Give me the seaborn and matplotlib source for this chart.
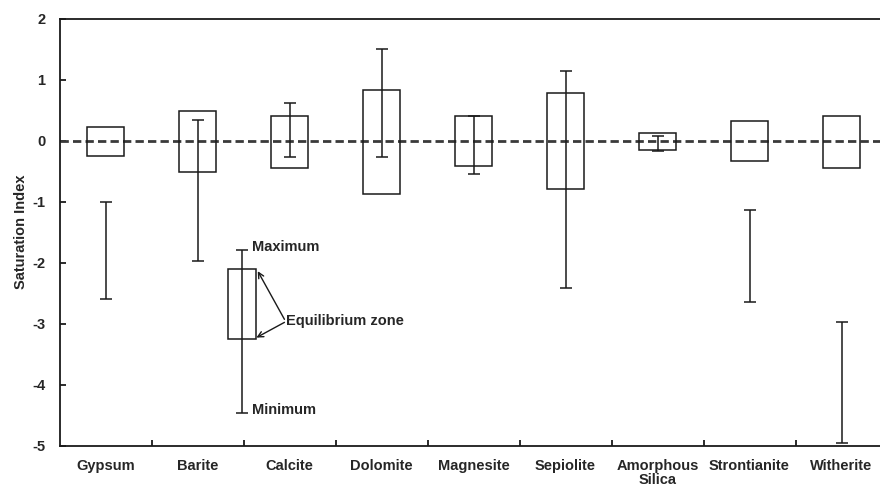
import numpy as np
import pandas as pd
import matplotlib
matplotlib.use("Agg")
import matplotlib.pyplot as plt
import seaborn as sns

# ---- data ----
minerals = ["Gypsum", "Barite", "Calcite", "Dolomite", "Magnesite",
            "Sepiolite", "Amorphous\nSilica", "Strontianite", "Witherite"]
box_low = [-0.25, -0.51, -0.44, -0.88, -0.42, -0.80, -0.16, -0.34, -0.45]
box_high = [0.22, 0.49, 0.41, 0.84, 0.40, 0.78, 0.12, 0.32, 0.41]
si_min = [-2.59, -1.98, -0.26, -0.26, -0.55, -2.42, -0.17, -2.64, -4.96]
si_max = [-1.00, 0.34, 0.62, 1.50, 0.40, 1.14, 0.07, -1.13, -2.97]

# explanatory key (drawn between Barite and Calcite)
key_x = 1.484
key_box = [-3.25, -2.10]
key_range = [-4.47, -1.80]

yticks = [2, 1, 0, -1, -2, -3, -4, -5]

df = pd.DataFrame({"mineral": minerals,
                   "low": box_low,
                   "height": np.array(box_high) - np.array(box_low)})

sns.set_style("ticks")
plt.rcParams["font.family"] = ["Liberation Sans", "DejaVu Sans"]
plt.rcParams["font.weight"] = "bold"

fig = plt.figure(figsize=(8.8, 4.88), dpi=100)
L = 59.5 / 880
ax = fig.add_axes([L, (488 - 445.5) / 488, 9 * 92 / 880, (445.5 - 18.8) / 488])

ink = "#1a1a1a"
lw = 1.1

# zero reference line
ax.axhline(0, color="#3a3a3a", lw=2.0, dashes=(3, 1.5), zorder=1)

# equilibrium zone boxes
sns.barplot(data=df, x="mineral", y="height", order=minerals,
            bottom=df["low"].values, fill=False, width=0.4,
            errorbar=None, color=ink, linewidth=lw, ax=ax, zorder=2)
for p in ax.patches:
    p.set_edgecolor(ink)
    p.set_facecolor("none")
    p.set_linewidth(lw)

# min / max ranges
pos = np.arange(len(minerals))
lo = np.array(si_min)
hi = np.array(si_max)
ax.errorbar(pos, (lo + hi) / 2, yerr=(hi - lo) / 2, fmt="none",
            ecolor=ink, elinewidth=lw, capsize=4, capthick=lw, zorder=3)

# key
ax.bar(key_x, key_box[1] - key_box[0], bottom=key_box[0], width=0.30,
       fill=False, edgecolor=ink, linewidth=lw, zorder=2)
ax.errorbar([key_x], [(key_range[0] + key_range[1]) / 2],
            yerr=[(key_range[1] - key_range[0]) / 2], fmt="none",
            ecolor=ink, elinewidth=lw, capsize=4, capthick=lw, zorder=3)
ax.text(key_x + 0.105, key_range[1] + 0.05, "Maximum", fontsize=10.5,
        fontweight="bold", va="center", ha="left")
ax.text(key_x + 0.105, key_range[0] + 0.05, "Minimum", fontsize=10.5,
        fontweight="bold", va="center", ha="left")
ax.text(1.965, -2.96, "Equilibrium zone", fontsize=10.5,
        fontweight="bold", va="center", ha="left")
ax.annotate("", xy=(1.655, -2.14), xytext=(1.945, -2.93),
            arrowprops=dict(arrowstyle="->", lw=1.0, color=ink,
                            shrinkA=0, shrinkB=0))
ax.annotate("", xy=(1.64, -3.23), xytext=(1.945, -2.98),
            arrowprops=dict(arrowstyle="->", lw=1.0, color=ink,
                            shrinkA=0, shrinkB=0))

# axes styling
ax.set_xlim(-0.5, len(minerals) - 0.5)
ax.set_ylim(-5, 2)
ax.set_yticks(yticks)
ax.set_yticklabels([str(t) for t in yticks], fontsize=10.5, fontweight="bold")
ax.set_xticks(pos)
ax.set_xticklabels(minerals, fontsize=10.5, fontweight="bold", linespacing=1.0)
ax.set_xticks(pos[:-1] + 0.5, minor=True)
ax.tick_params(axis="x", which="major", length=0, pad=10)
ax.tick_params(axis="x", which="minor", length=4, width=1.3, direction="in",
               color=ink)
ax.tick_params(axis="y", which="major", length=4, width=1.3, direction="in",
               pad=10, color=ink)
ax.set_xlabel("")
ax.set_ylabel("Saturation Index", fontsize=10.5, fontweight="bold", labelpad=3)

for side in ["left", "bottom", "top"]:
    ax.spines[side].set_visible(True)
    ax.spines[side].set_linewidth(1.3)
    ax.spines[side].set_color(ink)
ax.spines["right"].set_visible(False)

fig.savefig("out.png", dpi=100)
